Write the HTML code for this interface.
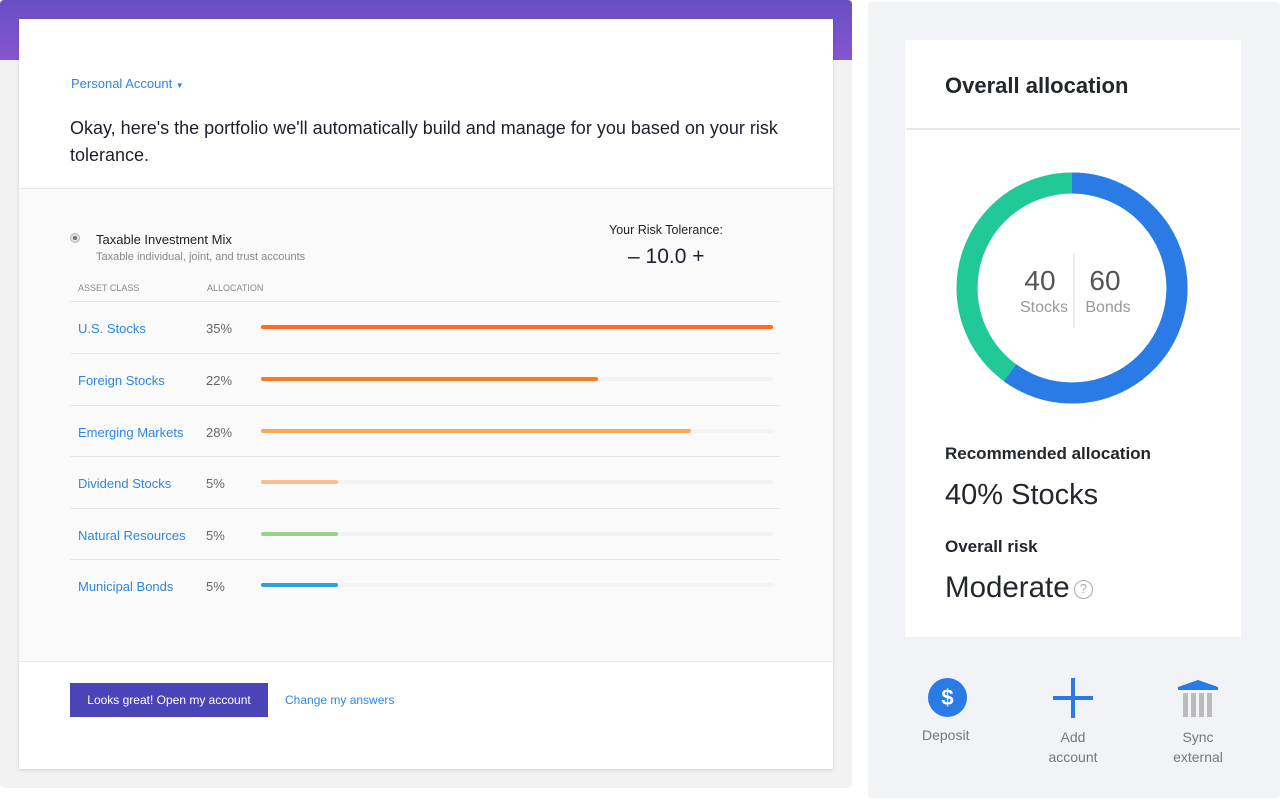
<!DOCTYPE html>
<html><head><meta charset="utf-8"><style>
*{margin:0;padding:0;box-sizing:border-box}
body{width:1280px;height:800px;background:#fff;font-family:"Liberation Sans",sans-serif;position:relative;overflow:hidden}
.a{position:absolute;white-space:nowrap}
.lk{color:#2f86e0}
.row{position:absolute;left:70px;width:710px;height:52px;border-top:1px solid #e6e6e6}
.row .n{position:absolute;left:8px;top:19px;font-size:13px;color:#2f86e0}
.row .p{position:absolute;left:136px;top:19px;font-size:13px;color:#666}
.row .t{position:absolute;left:191px;top:23px;width:512px;height:4px;background:#f3f3f3;border-radius:2px}
.row .b{position:absolute;left:0;top:0;height:4px;border-radius:2px}
</style></head><body>
<div class="a" style="left:0;top:0;width:852px;height:788px;background:#f2f2f2;border-radius:4px"></div>
<div class="a" style="left:0;top:0;width:852px;height:60px;background:linear-gradient(#6650c2,#8755d0);border-radius:4px 4px 0 0"></div>
<div class="a" style="left:19px;top:19px;width:814px;height:750px;background:#fff;box-shadow:0 1px 3px rgba(0,0,0,.15)"></div>
<div class="a" style="left:19px;top:188px;width:814px;height:474px;background:#fafafa;border-top:1px solid #e8e8e8;border-bottom:1px solid #e8e8e8"></div>
<div class="a lk" style="left:71px;top:76px;font-size:13px">Personal Account <span style="font-size:8px">▼</span></div>
<div class="a" style="left:70px;top:115px;font-size:18px;line-height:27px;color:#1e1e2e;white-space:normal;width:730px">Okay, here's the portfolio we'll automatically build and manage for you based on your risk tolerance.</div>
<div class="a" style="left:70px;top:233px;width:10px;height:10px;border-radius:50%;background:#ddd;border:1px solid #bbb"><div style="margin:2px;width:4px;height:4px;border-radius:50%;background:#777"></div></div>
<div class="a" style="left:96px;top:232px;font-size:13px;color:#222">Taxable Investment Mix</div>
<div class="a" style="left:96px;top:251px;font-size:11px;color:#888">Taxable individual, joint, and trust accounts</div>
<div class="a" style="left:609px;top:223px;font-size:12.5px;color:#222">Your Risk Tolerance:</div>
<div class="a" style="left:628px;top:245px;font-size:21px;color:#1e1e2e">– 10.0 +</div>
<div class="a" style="left:78px;top:283px;font-size:9px;color:#888">ASSET CLASS</div>
<div class="a" style="left:207px;top:283px;font-size:9px;color:#888">ALLOCATION</div>
<div class="row" style="top:301px"><span class="n">U.S. Stocks</span><span class="p">35%</span><div class="t"><div class="b" style="width:512px;background:#ff6b1f"></div></div></div>
<div class="row" style="top:353px"><span class="n">Foreign Stocks</span><span class="p">22%</span><div class="t"><div class="b" style="width:337px;background:#fb7a25"></div></div></div>
<div class="row" style="top:405px"><span class="n">Emerging Markets</span><span class="p">28%</span><div class="t"><div class="b" style="width:430px;background:#f8a95b"></div></div></div>
<div class="row" style="top:456px"><span class="n">Dividend Stocks</span><span class="p">5%</span><div class="t"><div class="b" style="width:77px;background:#fbbd8c"></div></div></div>
<div class="row" style="top:508px"><span class="n">Natural Resources</span><span class="p">5%</span><div class="t"><div class="b" style="width:77px;background:#98d288"></div></div></div>
<div class="row" style="top:559px"><span class="n">Municipal Bonds</span><span class="p">5%</span><div class="t"><div class="b" style="width:77px;background:#2aa3dd"></div></div></div>
<div class="a" style="left:70px;top:683px;width:198px;height:34px;background:#4a44b8;color:#fff;font-size:12px;text-align:center;line-height:34px">Looks great! Open my account</div>
<div class="a lk" style="left:285px;top:693px;font-size:12px">Change my answers</div>

<div class="a" style="left:868px;top:2px;width:412px;height:796px;background:#f2f3f7;border-radius:4px"></div>
<div class="a" style="left:905px;top:40px;width:336px;height:597px;background:#fff"></div>
<div class="a" style="left:906px;top:128px;width:334px;height:2px;background:#e8e9ee"></div>
<div class="a" style="left:945px;top:73px;font-size:22px;font-weight:bold;color:#23262e">Overall allocation</div>
<svg class="a" style="left:952px;top:168px" width="240" height="240" viewBox="0 0 240 240">
<circle cx="120" cy="120" r="105" fill="none" stroke="#20c997" stroke-width="21"/>
<circle cx="120" cy="120" r="105" fill="none" stroke="#2a7be6" stroke-width="21" stroke-dasharray="395.8 1000" transform="rotate(-90 120 120)"/>
<line x1="122" y1="86" x2="122" y2="160" stroke="#ddd" stroke-width="1"/>
<text x="88" y="122" font-size="28" fill="#555" text-anchor="middle" font-family="Liberation Sans">40</text>
<text x="92" y="144" font-size="16" fill="#999" text-anchor="middle" font-family="Liberation Sans">Stocks</text>
<text x="153" y="122" font-size="28" fill="#555" text-anchor="middle" font-family="Liberation Sans">60</text>
<text x="156" y="144" font-size="16" fill="#999" text-anchor="middle" font-family="Liberation Sans">Bonds</text>
</svg>
<div class="a" style="left:945px;top:444px;font-size:17px;font-weight:bold;color:#23262e">Recommended allocation</div>
<div class="a" style="left:945px;top:479px;font-size:29px;color:#23262e">40% Stocks</div>
<div class="a" style="left:945px;top:537px;font-size:17px;font-weight:bold;color:#23262e">Overall risk</div>
<div class="a" style="left:945px;top:571px;font-size:29.5px;color:#23262e">Moderate <span style="display:inline-block;width:19px;height:19px;border:1.5px solid #aaa;border-radius:50%;font-size:13px;color:#aaa;text-align:center;line-height:16px;vertical-align:4px;margin-left:-4px">?</span></div>
<div class="a" style="left:928px;top:678px;width:39px;height:39px;border-radius:50%;background:#2a7be6;color:#fff;font-weight:bold;font-size:22px;text-align:center;line-height:39px">$</div>
<div class="a" style="left:922px;top:727px;font-size:14px;color:#777">Deposit</div>
<div class="a" style="left:1053px;top:696px;width:40px;height:4px;background:#2a7be6"></div>
<div class="a" style="left:1071px;top:678px;width:4px;height:40px;background:#2a7be6"></div>
<div class="a" style="left:1040px;top:727px;width:66px;text-align:center;font-size:14px;color:#777;line-height:20px;white-space:normal">Add account</div>
<svg class="a" style="left:1178px;top:678px" width="40" height="40"><polygon points="0,9 20,2 40,9 40,12 0,12" fill="#2a7be6"/><rect x="5" y="15" width="5" height="24" fill="#bbb"/><rect x="13" y="15" width="5" height="24" fill="#bbb"/><rect x="21" y="15" width="5" height="24" fill="#bbb"/><rect x="29" y="15" width="5" height="24" fill="#bbb"/></svg>
<div class="a" style="left:1163px;top:727px;width:70px;text-align:center;font-size:14px;color:#777;line-height:20px;white-space:normal">Sync external</div>
</body></html>
